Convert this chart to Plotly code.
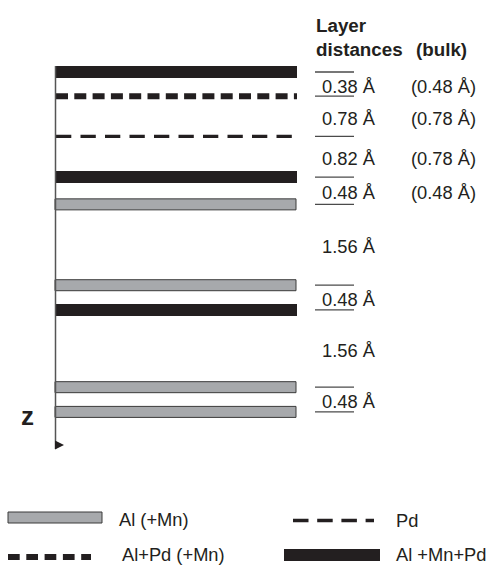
import plotly.graph_objects as go

# ---------------- data ----------------
layer_types = ["mixed", "alpd", "pd", "mixed", "al", "al", "mixed", "al", "al"]
layer_z = [0.0, 0.47, 1.25, 2.04, 2.57, 4.14, 4.62, 6.12, 6.60]   # depth (Å-scale)
distances = ["0.38 Å", "0.78 Å", "0.82 Å", "0.48 Å", "1.56 Å", "0.48 Å", "1.56 Å", "0.48 Å"]
bulk = ["(0.48 Å)", "(0.78 Å)", "(0.78 Å)", "(0.48 Å)"]
legend_labels = {"al": "Al (+Mn)", "pd": "Pd", "alpd": "Al+Pd (+Mn)", "mixed": "Al +Mn+Pd"}

# ---------------- styling ----------------
W, H = 490, 566
PX = 51.5          # pixels per depth unit
Z0 = 72            # pixel row of depth 0
BLACK = "#231f20"
GRAY = "#a7a9ac"
EDGE = "#3a3a3a"
FONT = "Liberation Sans, Arial, sans-serif"
FS = 18.3
FSB = 18.8


def zpx(p):
    return (p - Z0) / PX


def ppx(p):
    return 1 - p / H


fig = go.Figure()

# solid black layers
zb = [z for z, t in zip(layer_z, layer_types) if t == "mixed"]
fig.add_trace(go.Bar(orientation="h", y=zb, x=[241] * len(zb), base=56,
                     width=12 / PX, marker=dict(color=BLACK, line=dict(width=0))))
# gray layers
zg = [z for z, t in zip(layer_z, layer_types) if t == "al"]
fig.add_trace(go.Bar(orientation="h", y=zg, x=[241] * len(zg), base=55,
                     width=11 / PX, marker=dict(color=GRAY, line=dict(color=EDGE, width=1))))


def seg_xy(zs, x0, x1):
    xs, ys = [], []
    for z in zs:
        xs += [x0, x1, None]
        ys += [z, z, None]
    return xs, ys


# thick dashed (Al+Pd)
xs, ys = seg_xy([z for z, t in zip(layer_z, layer_types) if t == "alpd"], 56, 297)
fig.add_trace(go.Scatter(x=xs, y=ys, mode="lines",
                         line=dict(color=BLACK, width=6, dash="12px,6.3px")))
# thin dashed (Pd)
xs, ys = seg_xy([z for z, t in zip(layer_z, layer_types) if t == "pd"], 56, 292)
fig.add_trace(go.Scatter(x=xs, y=ys, mode="lines",
                         line=dict(color=BLACK, width=3.3, dash="15.3px,9.2px")))

# short reference ticks at each layer (right column)
xs, ys = seg_xy(layer_z, 315, 354)
fig.add_trace(go.Scatter(x=xs, y=ys, mode="lines", line=dict(color="#4a4a4a", width=1.3)))

# z axis line + arrow
fig.add_trace(go.Scatter(x=[55.5, 55.5], y=[zpx(66), zpx(449)], mode="lines",
                         line=dict(color="#555555", width=1.5)))
fig.add_shape(type="path", xref="x", yref="y",
              path=f"M 55 {zpx(440.5)} L 64 {zpx(445)} L 55 {zpx(449.5)} Z",
              fillcolor=BLACK, line=dict(width=0))

ann = []


def text(x, y, s, bold=False, size=None, xanchor="left", yref="y", yshift=0):
    if size is None:
        size = FSB if bold else FS
    ann.append(dict(x=x, y=y, xref="x", yref=yref, text=f"<b>{s}</b>" if bold else s,
                    showarrow=False, xanchor=xanchor, yanchor="middle", yshift=yshift,
                    font=dict(family=FONT, size=size, color=BLACK)))


text(314, zpx(25), "Layer", bold=True)
text(314, zpx(49), "distances", bold=True)
text(414, zpx(49), "(bulk)", bold=True)
for i, d in enumerate(distances):
    ym = (layer_z[i] + layer_z[i + 1]) / 2
    text(320, ym, d, yshift=-2)
    if i < len(bulk):
        text(409, ym, bulk[i], yshift=-2)

text(27, zpx(416), "z", bold=True, size=26, xanchor="center")

# ---------------- custom legend ----------------
shapes = []
shapes.append(dict(type="rect", xref="x", yref="paper", x0=8, x1=102, y0=ppx(523), y1=ppx(512),
                   fillcolor=GRAY, line=dict(color=EDGE, width=1)))
shapes.append(dict(type="line", xref="x", yref="paper", x0=8, x1=91, y0=ppx(557), y1=ppx(557),
                   line=dict(color=BLACK, width=6, dash="11.7px,6.6px")))
shapes.append(dict(type="line", xref="x", yref="paper", x0=293, x1=374, y0=ppx(520.5), y1=ppx(520.5),
                   line=dict(color=BLACK, width=3.3, dash="15.5px,8.7px")))
shapes.append(dict(type="rect", xref="x", yref="paper", x0=284, x1=380, y0=ppx(561), y1=ppx(549),
                   fillcolor=BLACK, line=dict(width=0)))
for s in shapes:
    fig.add_shape(**s)

text(117, ppx(519), legend_labels["al"], yref="paper")
text(394, ppx(520), legend_labels["pd"], yref="paper")
text(120, ppx(554.5), legend_labels["alpd"], yref="paper")
text(394, ppx(554), legend_labels["mixed"], yref="paper")

fig.update_layout(
    width=W, height=H, margin=dict(l=0, r=0, t=0, b=0),
    paper_bgcolor="white", plot_bgcolor="white", showlegend=False,
    barmode="overlay", annotations=ann,
    xaxis=dict(range=[0, W], visible=False, fixedrange=True),
    yaxis=dict(range=[(H - Z0) / PX, -Z0 / PX], visible=False, fixedrange=True),
)

fig.write_html("out.html")
